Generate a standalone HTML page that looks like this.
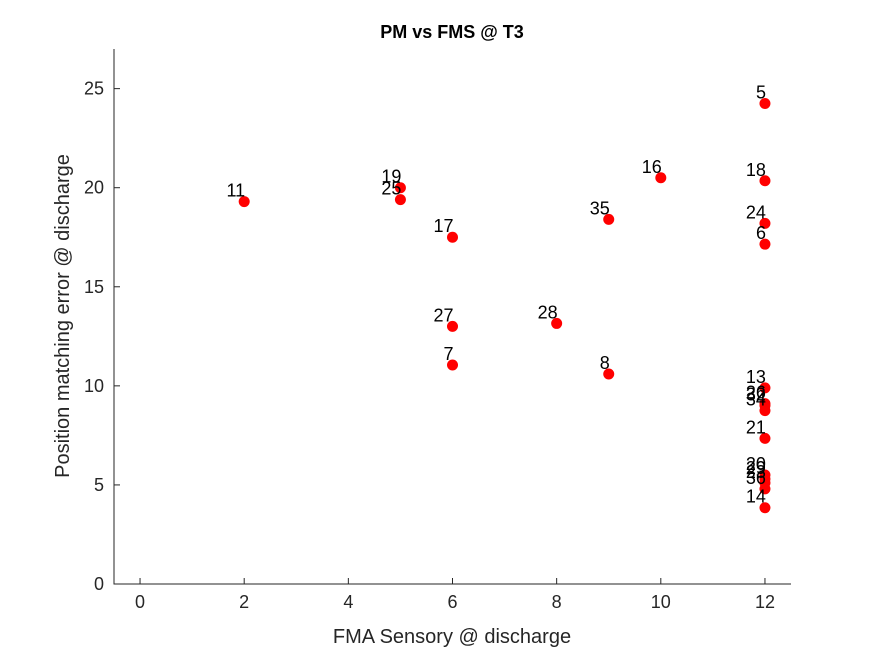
<!DOCTYPE html>
<html><head><meta charset="utf-8"><style>body{margin:0;background:#fff}svg{display:block;font-family:"Liberation Sans",sans-serif}</style></head>
<body>
<svg id="c" width="875" height="656">
<rect width="875" height="656" fill="#fff"/>
<text x="452" y="38" font-size="18" font-weight="bold" text-anchor="middle">PM vs FMS @ T3</text>
<g id="axes"></g><g id="pts"></g>
<text x="452" y="643" font-size="20" fill="#262626" text-anchor="middle">FMA Sensory @ discharge</text>
<text transform="translate(69,316) rotate(-90)" font-size="20" fill="#262626" text-anchor="middle">Position matching error @ discharge</text>
</svg>
<script>
const ids=["11","19","25","17","27","7","28","8","35","16","5","18","24","6","13","26","32","34","21","20","29","23","36","14"];
const xs=[2,5,5,6,6,6,8,9,9,10,12,12,12,12,12,12,12,12,12,12,12,12,12,12];
const ys=[19.3,20.0,19.4,17.5,13.0,11.05,13.15,10.6,18.4,20.5,24.25,20.35,18.2,17.15,9.9,9.1,9.0,8.75,7.35,5.5,5.3,5.1,4.8,3.85];
const xTicks=[0,2,4,6,8,10,12];
const yTicks=[0,5,10,15,20,25];
const L=114,R=791,T=49,B=584;
const sx=v=>L+(v+0.5)/13*(R-L);
const sy=v=>B-v/27*(B-T);
const NS="http://www.w3.org/2000/svg";
const ax=document.getElementById('axes'),pg=document.getElementById('pts');
function mk(p,tag,a){const e=document.createElementNS(NS,tag);for(const k in a)e.setAttribute(k,a[k]);p.appendChild(e);return e;}
let l=mk(ax,'path',{d:`M${L},${T}V${B}H${R}`,stroke:'#262626',fill:'none','stroke-width':1});


xTicks.forEach(t=>{const x=sx(t);
 const tk=mk(ax,'line',{x1:x,x2:x,y1:B,y2:B-6,stroke:'#262626'});
 
 
 const tx=mk(ax,'text',{x:x,y:B+24,'font-size':18,fill:'#262626','text-anchor':'middle'});tx.textContent=t;
 
 });
yTicks.forEach(t=>{const y=sy(t);
 const tk=mk(ax,'line',{x1:L,x2:L+6,y1:y,y2:y,stroke:'#262626'});
 
 
 const tx=mk(ax,'text',{x:L-10,y:y+6,'font-size':18,fill:'#262626','text-anchor':'end'});tx.textContent=t;
 
 });
ids.forEach((id,i)=>{const x=sx(xs[i]),y=sy(ys[i]);
 const c=mk(pg,'circle',{cx:x,cy:y,r:5.5,fill:'#f00'});
 
 
 const t=mk(pg,'text',{x:x+1,y:y-5,'font-size':18,'text-anchor':'end'});t.textContent=id;
 
 });
</script>
</body></html>
